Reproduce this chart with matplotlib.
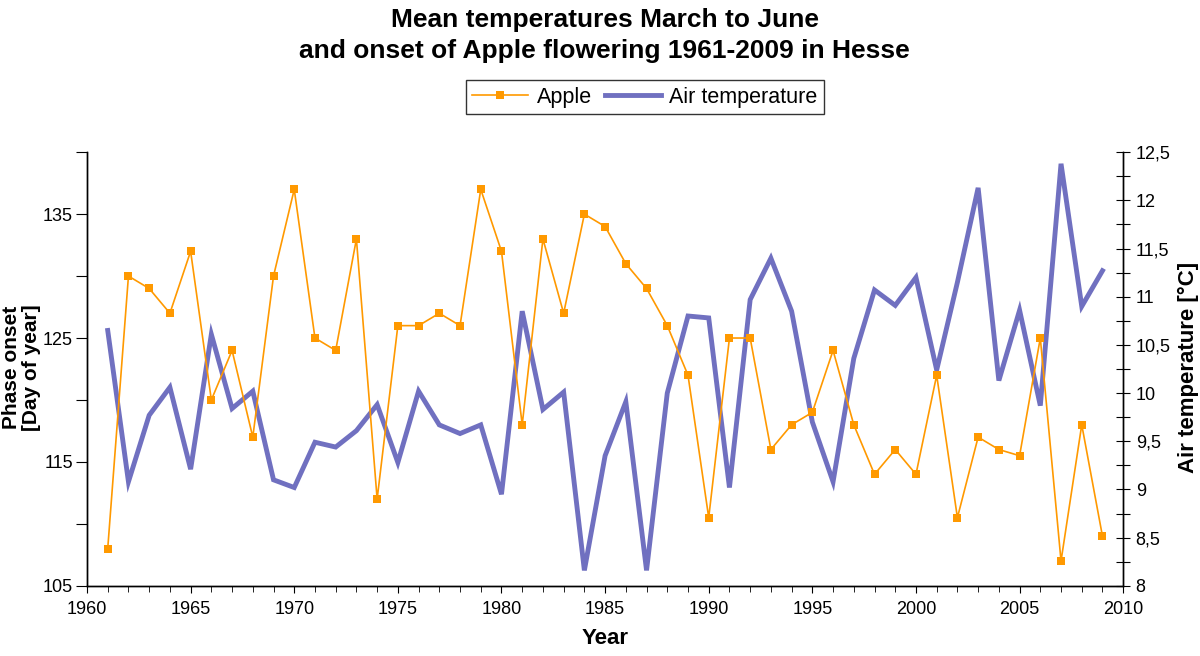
import matplotlib.pyplot as plt
from matplotlib.ticker import MultipleLocator, FuncFormatter

plt.rcParams['font.family'] = ['Liberation Sans', 'DejaVu Sans']

# data
years = list(range(1961, 2010))
apple = [108, 130, 129, 127, 132, 120, 124, 117, 130, 137,
         125, 124, 133, 112, 126, 126, 127, 126, 137, 132,
         118, 133, 127, 135, 134, 131, 129, 126, 122, 110.5,
         125, 125, 116, 118, 119, 124, 118, 114, 116, 114,
         122, 110.5, 117, 116, 115.5, 125, 107, 118, 109]
air_temp = [10.65, 9.08, 9.77, 10.06, 9.21, 10.61, 9.84, 10.02, 9.10, 9.02,
            9.49, 9.44, 9.61, 9.88, 9.28, 10.02, 9.67, 9.58, 9.67, 8.95,
            10.85, 9.83, 10.01, 8.16, 9.35, 9.91, 8.16, 10.00, 10.80, 10.78,
            9.02, 10.97, 11.40, 10.85, 9.70, 9.08, 10.36, 11.07, 10.91, 11.20,
            10.24, 11.15, 12.13, 10.13, 10.86, 9.87, 12.38, 10.90, 11.27]

c_apple = '#FF9900'
c_temp = '#7070C0'

fig = plt.figure(figsize=(12, 6.56), dpi=100)
ax = fig.add_axes([0.0725, 0.107, 0.8635, 0.661])
ax2 = ax.twinx()

l2, = ax2.plot(years, air_temp, color=c_temp, linewidth=3.5, solid_joinstyle='miter')
l1, = ax.plot(years, apple, color=c_apple, linewidth=1.2, marker='s',
              markersize=5.5, markeredgewidth=0)
ax.set_zorder(ax2.get_zorder() + 1)
ax.patch.set_visible(False)

ax.set_xlim(1960, 2010)
ax.set_ylim(105, 140)
ax2.set_ylim(8, 12.5)

ax.xaxis.set_major_locator(MultipleLocator(5))
ax.xaxis.set_minor_locator(MultipleLocator(1))
ax.yaxis.set_major_locator(MultipleLocator(5))
ax.yaxis.set_major_formatter(FuncFormatter(lambda v, p: '%d' % v if int(round(v)) % 10 == 5 else ''))
ax2.yaxis.set_major_locator(MultipleLocator(0.25))
def temp_fmt(v, p):
    if abs(v * 2 - round(v * 2)) > 1e-6:
        return ''
    return ('%g' % v).replace('.', ',')
ax2.yaxis.set_major_formatter(FuncFormatter(temp_fmt))

for a in (ax, ax2):
    a.spines['top'].set_visible(False)
    for s in a.spines.values():
        s.set_linewidth(1.0)
ax.tick_params(axis='x', which='major', length=5, labelsize=13, pad=6)
ax.tick_params(axis='x', which='minor', length=4)
ax.tick_params(axis='y', length=8, labelsize=13, pad=2)
ax2.tick_params(axis='y', direction='inout', length=10, labelsize=13, pad=4)

fig.text(0.504, 0.988, 'Mean temperatures March to June\nand onset of Apple flowering 1961-2009 in Hesse',
         ha='center', va='top', fontsize=19, fontweight='bold', linespacing=1.4)
fig.text(0.504, 0.027, 'Year', ha='center', va='center', fontsize=16, fontweight='bold')
fig.text(0.018, 0.44, 'Phase onset\n[Day of year]', ha='center', va='center', rotation=90,
         fontsize=15, fontweight='bold', linespacing=1.05)
fig.text(0.99, 0.44, 'Air temperature [°C]', ha='center', va='center', rotation=90,
         fontsize=16, fontweight='bold')

leg = fig.legend([l1, l2], ['Apple', 'Air temperature'], loc='center', ncol=2,
                 bbox_to_anchor=(0.5375, 0.852), fontsize=15.5, frameon=True, fancybox=False,
                 handlelength=2.6, handletextpad=0.4, columnspacing=0.6, borderpad=0.3)
leg.get_frame().set_edgecolor('black')
leg.get_frame().set_linewidth(1.0)

fig.savefig('out.png', dpi=100)
